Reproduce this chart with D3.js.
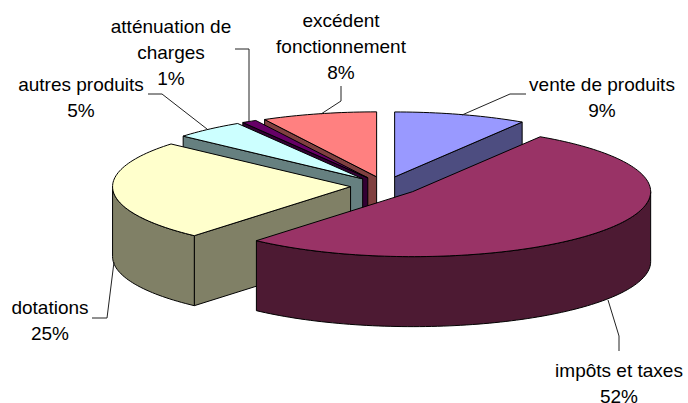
<!DOCTYPE html>
<html>
<head>
<meta charset="utf-8">
<style>
  html, body { margin: 0; padding: 0; background: #fff; }
  svg { display: block; }
  text { font-family: "Liberation Sans", Arial, sans-serif; font-size: 19px; fill: #000; text-anchor: middle; }
</style>
<script src="https://cdn.jsdelivr.net/npm/d3@7"></script>
</head>
<body>
<div id="chart"></div>
<script>
// data
const categories = ["vente de produits", "impôts et taxes", "dotations", "autres produits", "atténuation de charges", "excédent fonctionnement"];
const shares = [9, 52.4, 25, 4.8, 1, 7.8];
const topColors = ["#9999ff", "#993366", "#ffffcc", "#ccffff", "#660066", "#ff8080"];
const sideColors = ["#4d4d80", "#4d1a33", "#808066", "#668080", "#330033", "#804040"];
// label lines, one array per slice
const labelLines = [
  ["vente de produits", "9%"],
  ["impôts et taxes", "52%"],
  ["dotations", "25%"],
  ["autres produits", "5%"],
  ["atténuation de", "charges", "1%"],
  ["excédent", "fonctionnement", "8%"],
];

const width = 688, height = 403;
const svg = d3.select("#chart").append("svg").attr("width", width).attr("height", height);

// pie centre and projection
const cx = 385, cy = 186, rx = 238, ry = 65, depth = 70, explode = 0.145;
const x = d3.scaleLinear().domain([-1, 1]).range([cx - rx, cx + rx]);
const y = d3.scaleLinear().domain([-1, 1]).range([cy + ry, cy - ry]);
const line = d3.line();

const arcs = d3.pie().sort(null)(shares);

// slice geometry in pixels
const slices = arcs.map((a, i) => {
  const mid = (a.startAngle + a.endAngle) / 2;
  const ox = explode * Math.sin(mid), oy = explode * Math.cos(mid);
  const pt = (ang, r = 1) => [x(ox + r * Math.sin(ang)), y(oy + r * Math.cos(ang))];
  return { i, a, pt, apex: pt(0, 0) };
});

const down = (p) => [p[0], p[1] + depth];

const sample = (a0, a1, pt) => {
  const n = Math.max(2, Math.ceil((a1 - a0) * 40));
  return d3.range(n + 1).map((k) => pt(a0 + ((a1 - a0) * k) / n));
};

// back slices first, the two big front ones last
const order = [0, 5, 4, 3, 2, 1];

order.forEach((idx) => {
  const { a, pt, apex } = slices[idx];
  const g = svg.append("g")
    .attr("stroke", "#000")
    .attr("stroke-width", 1)
    .attr("stroke-linejoin", "round");

  // cut faces
  const faces = [];
  if (Math.sin(a.startAngle) < -1e-6) faces.push(a.startAngle);
  if (Math.sin(a.endAngle) > 1e-6) faces.push(a.endAngle);
  faces.forEach((ang) => {
    const p = pt(ang);
    g.append("path")
      .attr("d", line([apex, p, down(p), down(apex)]) + "Z")
      .attr("fill", sideColors[idx]);
  });

  // outer wall, front half only
  const w0 = Math.max(a.startAngle, Math.PI / 2);
  const w1 = Math.min(a.endAngle, (3 * Math.PI) / 2);
  if (w1 > w0) {
    const rim = sample(w0, w1, pt);
    g.append("path")
      .attr("d", line(rim.concat(rim.slice().reverse().map(down))) + "Z")
      .attr("fill", sideColors[idx]);
  }

  // top
  g.append("path")
    .attr("d", line([apex].concat(sample(a.startAngle, a.endAngle, pt))) + "Z")
    .attr("fill", topColors[idx]);
});

// leader lines
const leaders = [
  [[462, 115], [510, 94], [526, 94]],
  [[608, 300], [619, 336], [619, 351]],
  [[114, 262], [107, 318], [92, 318]],
  [[148, 94], [162, 94], [207, 129]],
  [[235, 49], [249, 49], [249, 122]],
  [[341, 86], [341, 101], [321, 114]],
];
svg.append("g")
  .selectAll("path")
  .data(leaders)
  .join("path")
  .attr("d", (d) => line(d))
  .attr("fill", "none")
  .attr("stroke", "#222")
  .attr("stroke-width", 1);

// labels
const labelPos = [
  { cx: 602, base: 90.5 },
  { cx: 619, base: 376.5 },
  { cx: 50, base: 314 },
  { cx: 81, base: 90.5 },
  { cx: 171, base: 32.5 },
  { cx: 341, base: 27 },
];
const lineGap = 26;
const labels = svg.append("g");
labelLines.forEach((lines, i) => {
  lines.forEach((t, j) => {
    labels.append("text")
      .attr("x", labelPos[i].cx)
      .attr("y", labelPos[i].base + j * lineGap)
      .text(t);
  });
});
</script>
</body>
</html>
